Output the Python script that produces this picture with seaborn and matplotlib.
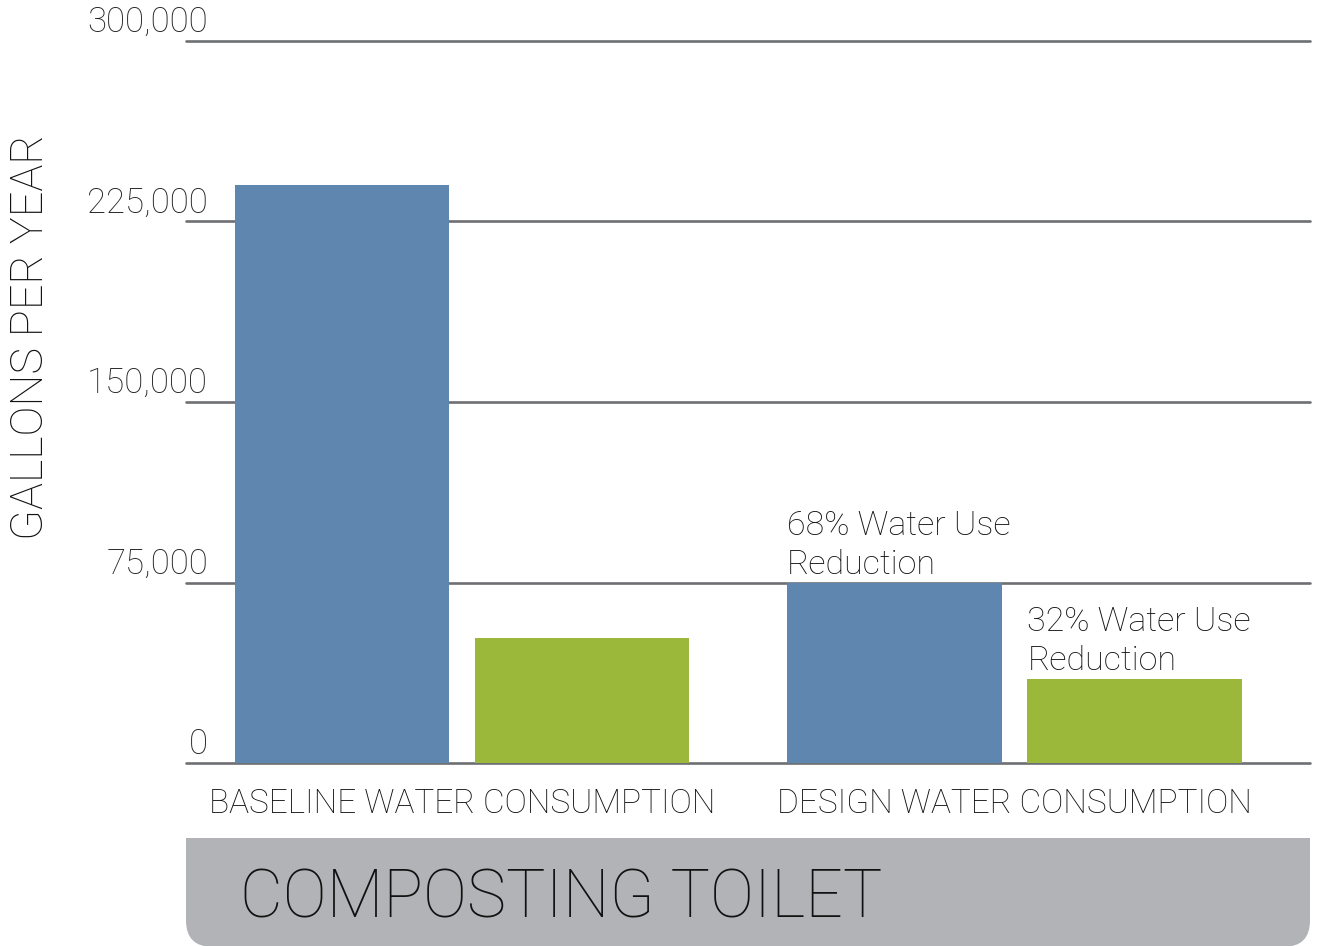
import matplotlib.pyplot as plt
import matplotlib.transforms as mtransforms
from matplotlib.patches import FancyBboxPatch, Rectangle
import pandas as pd
import seaborn as sns

categories = ["BASELINE WATER CONSUMPTION", "DESIGN WATER CONSUMPTION"]
series = ["Total", "Toilet"]
total_values = [240000, 75000]
toilet_values = [52000, 35000]
notes = ["68% Water Use\nReduction", "32% Water Use\nReduction"]
y_ticks = [0, 75000, 150000, 225000, 300000]
y_tick_labels = ["0", "75,000", "150,000", "225,000", "300,000"]

BLUE = "#5f86ae"
GREEN = "#9bb83b"
GRID = "#6d6f73"
BOX = "#b2b3b6"

df = pd.DataFrame({
    "category": categories * 2,
    "series": [series[0]] * 2 + [series[1]] * 2,
    "gallons": total_values + toilet_values,
})

sns.set_style("white")
plt.rcParams["font.family"] = ["Roboto", "DejaVu Sans"]
plt.rcParams["font.weight"] = "light"

fig = plt.figure(figsize=(13.19, 9.46), dpi=100)
W, H = 1319, 946
ax = fig.add_axes([186 / W, 1 - 763 / H, (1310 - 186) / W, (763 - 41) / H])

sns.barplot(data=df, x="category", y="gallons", hue="series", order=categories,
            hue_order=series, palette=[BLUE, GREEN], width=0.87, gap=0.108,
            saturation=1, legend=False, ax=ax, zorder=3,
            linewidth=0, edgecolor="none")

ax.set_xlim(-0.5, 1.535)
ax.set_ylim(0, 300000)
ax.set_yticks(y_ticks)
ax.set_yticklabels([])
ax.tick_params(axis="y", length=0)
for y in y_ticks:
    ax.axhline(y, color=GRID, lw=1.9, zorder=1, clip_on=False)
for s in ax.spines.values():
    s.set_visible(False)

# value labels sit above each gridline, right-aligned inside the axes
off = mtransforms.ScaledTranslation(0, 2 / 100, fig.dpi_scale_trans)
tr = mtransforms.blended_transform_factory(ax.transAxes, ax.transData) + off
for y, lab in zip(y_ticks, y_tick_labels):
    ax.text((208 - 186) / 1124, y, lab, transform=tr, ha="right", va="bottom",
            fontsize=25, color="#222222", fontweight="light")

ax.set_xlabel("")
ax.tick_params(axis="x", length=0, pad=18, labelsize=24, labelcolor="#111111")
ax.set_ylabel("GALLONS PER YEAR", fontsize=32.5, color="#111111", fontweight="light")
ax.yaxis.set_label_coords((52 - 186) / 1124, (763 - 337) / 722)

# reduction notes above the design bars
bars = [p for p in ax.patches if p.get_height() > 0]
design = sorted([b for b in bars if b.get_x() > 0.5], key=lambda b: b.get_x())
noff = mtransforms.ScaledTranslation(0, 2 / 100, fig.dpi_scale_trans)
for b, note in zip(design, notes):
    ax.text(b.get_x(), b.get_height(), note, transform=ax.transData + noff,
            ha="left", va="bottom", fontsize=24.5, color="#111111",
            linespacing=1.27, fontweight="light")

# grey title band at the bottom
fig.patches.append(FancyBboxPatch((186 / W + 0.02, 0.027),
                                  (1310 - 186) / W - 0.04, (946 - 838) / H - 0.057,
                                  boxstyle="round,pad=0.02", transform=fig.transFigure,
                                  facecolor=BOX, edgecolor="none", mutation_aspect=W / H))
fig.patches.append(Rectangle((186 / W, (946 - 885) / H), (1310 - 186) / W, (885 - 838) / H,
                             transform=fig.transFigure, facecolor=BOX, edgecolor="none"))
fig.text(240 / W, 1 - 899 / H, "COMPOSTING TOILET", ha="left", va="center",
         fontsize=47.5, color="#111111", fontweight="light")

fig.savefig("out.png", dpi=100)
